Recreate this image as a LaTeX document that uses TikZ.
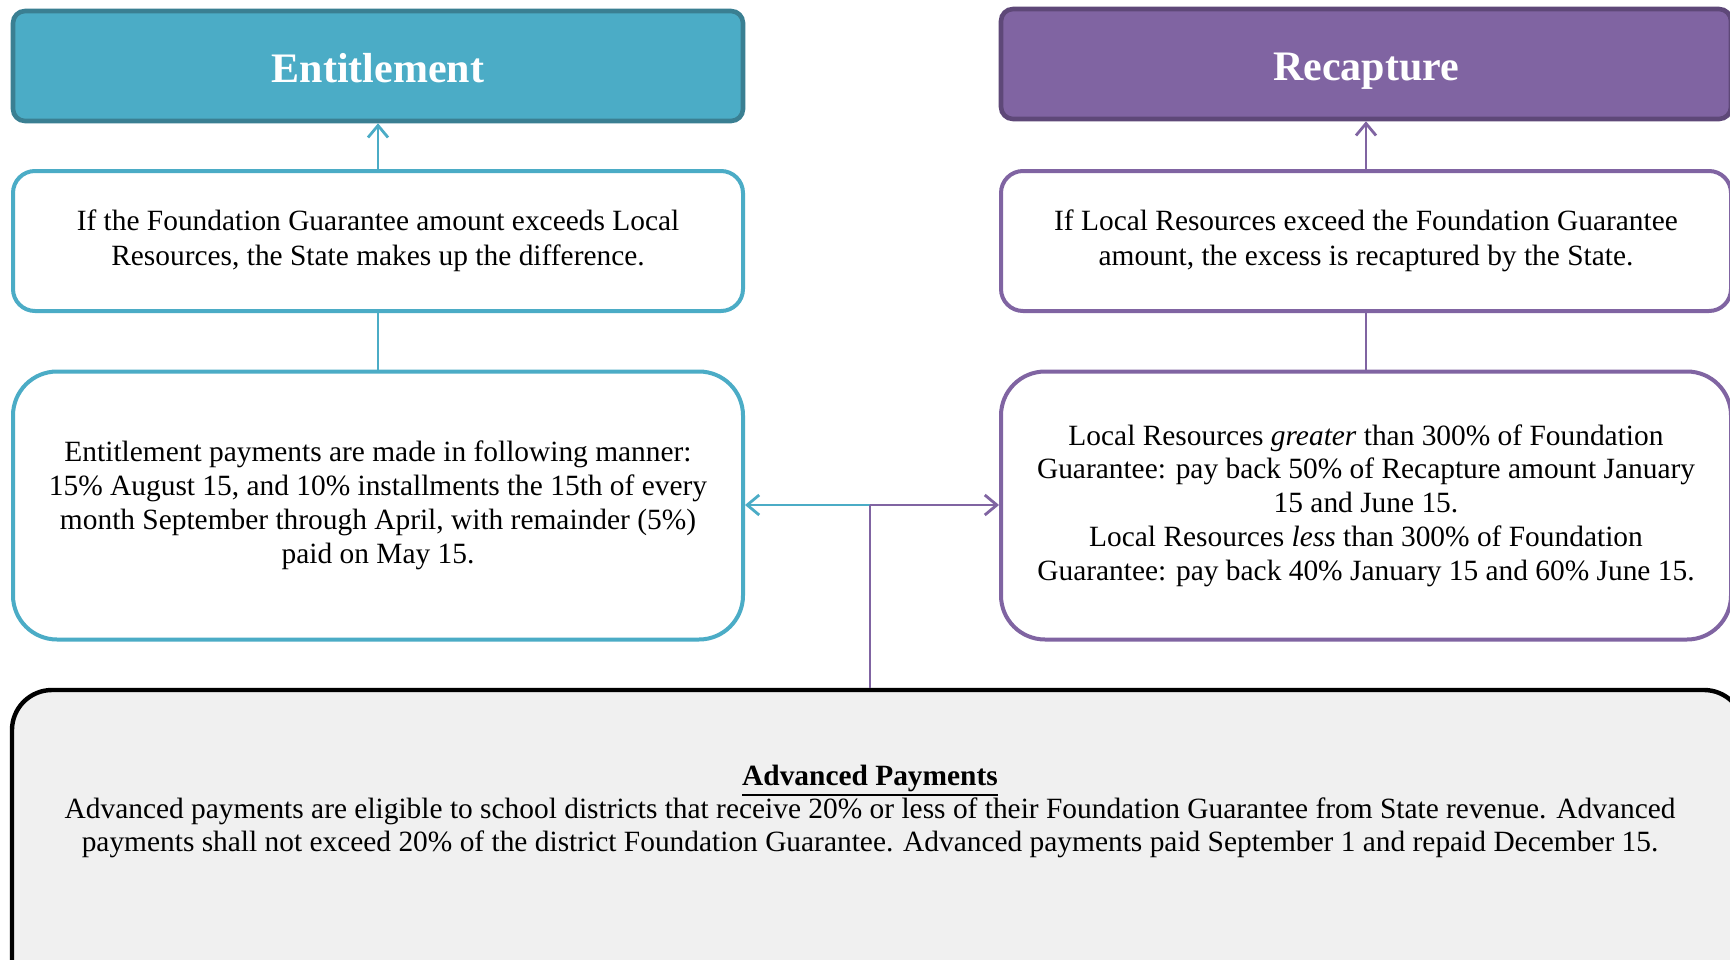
\documentclass[tikz,border=0pt]{standalone}
\usepackage{fontspec}
\setmainfont{Liberation Serif}
\usetikzlibrary{arrows.meta,calc}
\definecolor{entblue}{HTML}{4BACC6}
\definecolor{entdark}{HTML}{3A7F92}
\definecolor{recpurple}{HTML}{8064A2}
\definecolor{recdark}{HTML}{5E4878}
\definecolor{advgray}{HTML}{F0F0F0}
\newcommand\myThickUl[1]{\vtop{\hbox{#1}\kern1.2pt\hrule height 1.1pt}}
\begin{document}
\begin{tikzpicture}[x=0.5pt,y=-0.5pt,
  header/.style={draw=#1, line width=2.3pt, rounded corners=6pt, minimum width=365pt, minimum height=55pt, inner sep=0pt, text=white, text height=17pt, text depth=0.5pt, font=\fontsize{21}{25}\selectfont\bfseries},
  descbox/.style={draw=#1, fill=white, line width=2pt, rounded corners=11pt, minimum width=365pt, minimum height=70pt, inner sep=0pt, align=center, font=\fontsize{14.7}{17.5}\selectfont},
  paybox/.style={draw=#1, fill=white, line width=2pt, rounded corners=22pt, minimum width=365pt, minimum height=134pt, inner sep=0pt, align=center, font=\fontsize{14.7}{16.9}\selectfont},
  advbox/.style={draw=black, fill=advgray, line width=2.2pt, rounded corners=20pt, minimum width=866pt, minimum height=160pt, inner sep=0pt},
  advtext/.style={align=center, inner sep=0pt, font=\fontsize{14.7}{16.5}\selectfont},
  conn/.style={draw=#1, line width=1.4pt},
  tip/.style={-{Straight Barb[length=6pt,width=10pt,line width=1.4pt]}}
]
\useasboundingbox (0,0) rectangle (1730,959);
\clip (0,0) rectangle (1730,959);
\fill[white] (0,0) rectangle (1730,959);

% headers
\node[header=entdark, fill=entblue] (ent) at (378,66) {Entitlement};
\node[header=recdark, fill=recpurple] (rec) at (1366,64) {Recapture};

% description boxes
\node[descbox=entblue] (entd) at (378,241) {If the Foundation Guarantee amount exceeds Local\\Resources, the State makes up the difference.};
\node[descbox=recpurple] (recd) at (1366,241) {If Local Resources exceed the Foundation Guarantee\\amount, the excess is recaptured by the State.};

% payment boxes
\node[paybox=entblue] (entp) at (378,505.5) {Entitlement payments are made in following manner:\\15\% August 15, and 10\% installments the 15th of every\\month September through April, with remainder (5\%)\\paid on May 15.};
\node[paybox=recpurple] (recp) at (1366,505.5) {Local Resources \textit{greater} than 300\% of Foundation\\Guarantee: pay back 50\% of Recapture amount January\\15 and June 15.\\Local Resources \textit{less} than 300\% of Foundation\\Guarantee: pay back 40\% January 15 and 60\% June 15.};

% advanced payments
\node[advbox] (adv) at (878,850) {};
\node[advtext] (advt) at (870,811) {\myThickUl{\textbf{Advanced Payments}}\\Advanced payments are eligible to school districts that receive 20\% or less of their Foundation Guarantee from State revenue. Advanced\\payments shall not exceed 20\% of the district Foundation Guarantee. Advanced payments paid September 1 and repaid December 15.};

% connectors
\draw[conn=entblue, tip] (entd.north) -- (ent.south);
\draw[conn=recpurple, tip] (recd.north) -- (rec.south);
\draw[conn=entblue] (entp.north) -- (entd.south);
\draw[conn=recpurple] (recp.north) -- (recd.south);

\coordinate (j) at (870,505);
\draw[conn=entblue, tip] (j) -- (entp.east |- j);
\draw[conn=recpurple, line width=1.2pt] (j |- adv.north) -- (j);
\draw[conn=recpurple, tip] (j) -- (recp.west |- j);
\end{tikzpicture}
\end{document}
